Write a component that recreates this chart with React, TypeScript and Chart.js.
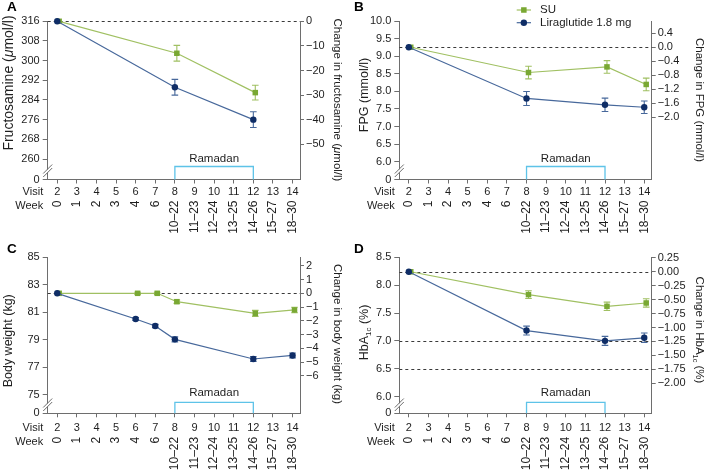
import React, { useEffect, useRef } from "react";
import { Chart, registerables } from "chart.js";
Chart.register(...registerables);

const FONT = '"Liberation Sans", Arial, Helvetica, sans-serif';
const COL = {
  su: "#79a833",
  suLine: "#a0c062",
  lira: "#0f2d66",
  liraLine: "#47689b",
  ramadan: "#5ec3e8",
  axis: "#6e6e6e",
  text: "#1e1e1e",
  dash: "#3a3a3a",
};

// ---- shared x-axis content ----
const visitTicks = [2, 3, 4, 5, 6, 7, 8, 9, 10, 11, 12, 13, 14];
const weekLabels = ["0", "1", "2", "3", "4", "6", "10–22", "11–23", "12–24", "13–25", "14–26", "15–27", "18–30"];
const ramadanVisits = [8, 12];
const seriesNames = ["SU", "Liraglutide 1.8 mg"];

// ---- Panel A: fructosamine ----
const aVisits = [2, 8, 12];
const aSU = [316, 303, 287];
const aSUErr = [0, 3.2, 3.0];
const aLira = [316, 289.2, 276];
const aLiraErr = [0, 3.2, 3.2];
const aLeftTicks = [260, 268, 276, 284, 292, 300, 308, 316];
const aRightTicks = [0, -10, -20, -30, -40, -50];
const aBaseline = 316;
const aRefLines = [316];
const aRange = [251.67, 316];

// ---- Panel B: FPG ----
const bVisits = [2, 8, 12, 14];
const bSU = [9.26, 8.54, 8.7, 8.2];
const bSUErr = [0, 0.18, 0.18, 0.18];
const bLira = [9.26, 7.8, 7.62, 7.55];
const bLiraErr = [0, 0.2, 0.19, 0.18];
const bLeftTicks = [6.0, 6.5, 7.0, 7.5, 8.0, 8.5, 9.0, 9.5, 10.0];
const bRightTicks = [0.4, 0, -0.4, -0.8, -1.2, -1.6, -2.0];
const bBaseline = 9.26;
const bRefLines = [9.26];
const bRange = [5.49, 10];

// ---- Panel C: body weight ----
const cVisits = [2, 6, 7, 8, 12, 14];
const cSU = [82.38, 82.38, 82.38, 81.77, 80.92, 81.17];
const cSUErr = [0, 0.08, 0.08, 0.12, 0.22, 0.2];
const cLira = [82.38, 80.51, 80.0, 79.03, 77.6, 77.86];
const cLiraErr = [0, 0.1, 0.12, 0.18, 0.18, 0.18];
const cLeftTicks = [75, 77, 79, 81, 83, 85];
const cRightTicks = [2, 1, 0, -1, -2, -3, -4, -5, -6];
const cBaseline = 82.38;
const cRefLines = [82.38];
const cRange = [73.65, 85];

// ---- Panel D: HbA1c ----
const dVisits = [2, 8, 12, 14];
const dSU = [8.24, 7.83, 7.62, 7.68];
const dSUErr = [0, 0.07, 0.075, 0.075];
const dLira = [8.24, 7.185, 7.0, 7.055];
const dLiraErr = [0, 0.08, 0.08, 0.085];
const dLeftTicks = [6.0, 6.5, 7.0, 7.5, 8.0, 8.5];
const dRightTicks = [0.25, 0, -0.25, -0.5, -0.75, -1.0, -1.25, -1.5, -1.75, -2.0];
const dBaseline = 8.24;
const dRefLines = [8.24, 7.0, 6.5];
const dRange = [5.7, 8.5];

type Seg = { t: string; sub?: boolean; it?: boolean };

const X_MIN = 1.515;
const X_MAX = 14.38;
const SU_DODGE = 0.1;

const fmt = (v: number, dec: number) => (v < 0 ? "\u2212" : "") + Math.abs(v).toFixed(dec);

function drawRich(ctx: CanvasRenderingContext2D, segs: Seg[], cx: number, cy: number, angle: number, size: number) {
  ctx.save();
  ctx.translate(cx, cy);
  ctx.rotate(angle);
  let total = 0;
  const parts = segs.map((s) => {
    const fs = s.sub ? size * 0.64 : size;
    const font = `${s.it ? "italic " : ""}${fs}px ${FONT}`;
    ctx.font = font;
    const w = ctx.measureText(s.t).width;
    total += w;
    return { s, font, w };
  });
  let x = -total / 2;
  ctx.textAlign = "left";
  ctx.textBaseline = "alphabetic";
  ctx.fillStyle = COL.text;
  const base = size * 0.36;
  for (const p of parts) {
    ctx.font = p.font;
    ctx.fillText(p.s.t, x, p.s.sub ? base + size * 0.22 : base);
    x += p.w;
  }
  ctx.restore();
}

function drawMarker(ctx: CanvasRenderingContext2D, style: string, x: number, y: number, r: number, color: string) {
  ctx.fillStyle = color;
  if (style === "rect") {
    const s = Math.SQRT1_2 * r;
    ctx.fillRect(x - s, y - s, 2 * s, 2 * s);
  } else {
    ctx.beginPath();
    ctx.arc(x, y, r, 0, Math.PI * 2);
    ctx.fill();
  }
}

interface Panel {
  letter: string;
  visits: number[];
  su: number[];
  suErr: number[];
  lira: number[];
  liraErr: number[];
  leftTicks: number[];
  rightTicks: number[];
  leftDec: number;
  rightDec: number;
  baseline: number;
  refLines: number[];
  range: number[];
  leftTitle: Seg[];
  rightTitle: Seg[];
  legend: boolean;
  box: { left: number; top: number; w: number; h: number };
  lay: {
    top: number;
    bottom: number;
    leftW: number;
    rightW: number;
    visitH: number;
    visitPad: number;
    weekPad: number;
    letter: number[];
    leftTitle: number[];
    leftTitleSize: number;
    rightTitle: number[];
    ramadan: number[];
    breakOff: number;
    legend?: number[];
  };
}

const PANELS: Panel[] = [
  {
    letter: "A", visits: aVisits, su: aSU, suErr: aSUErr, lira: aLira, liraErr: aLiraErr,
    leftTicks: aLeftTicks, rightTicks: aRightTicks, leftDec: 0, rightDec: 0,
    baseline: aBaseline, refLines: aRefLines, range: aRange,
    leftTitle: [{ t: "Fructosamine (" }, { t: "\u03bc", it: true }, { t: "mol/l)" }],
    rightTitle: [{ t: "Change in fructosamine (" }, { t: "\u03bc", it: true }, { t: "mol/l)" }],
    legend: false,
    box: { left: 0, top: 0, w: 354, h: 236 },
    lay: { top: 21.3, bottom: 179.5, leftW: 47.7, rightW: 54, visitH: 19, visitPad: 2, weekPad: 2, letter: [7, 11], leftTitle: [7.8, 83], leftTitleSize: 14, rightTitle: [338, 100], ramadan: [13, 21], breakOff: 8.5 },
  },
  {
    letter: "B", visits: bVisits, su: bSU, suErr: bSUErr, lira: bLira, liraErr: bLiraErr,
    leftTicks: bLeftTicks, rightTicks: bRightTicks, leftDec: 1, rightDec: 1,
    baseline: bBaseline, refLines: bRefLines, range: bRange,
    leftTitle: [{ t: "FPG (mmol/l)" }],
    rightTitle: [{ t: "Change in FPG (mmol/l)" }],
    legend: true,
    box: { left: 352, top: 0, w: 357, h: 236 },
    lay: { top: 21.3, bottom: 179.5, leftW: 47.3, rightW: 57.3, visitH: 19, visitPad: 2, weekPad: 2, letter: [2, 11], leftTitle: [11.3, 95], leftTitleSize: 12.5, rightTitle: [348, 100], ramadan: [13, 21], breakOff: 8.5, legend: [164.7, 179, 188, 10, 22.7] },
  },
  {
    letter: "C", visits: cVisits, su: cSU, suErr: cSUErr, lira: cLira, liraErr: cLiraErr,
    leftTicks: cLeftTicks, rightTicks: cRightTicks, leftDec: 0, rightDec: 0,
    baseline: cBaseline, refLines: cRefLines, range: cRange,
    leftTitle: [{ t: "Body weight (kg)" }],
    rightTitle: [{ t: "Change in body weight (kg)" }],
    legend: false,
    box: { left: 0, top: 236, w: 354, h: 234 },
    lay: { top: 21.3, bottom: 177.3, leftW: 47.7, rightW: 54, visitH: 21, visitPad: 3.6, weekPad: 2.5, letter: [7, 17.3], leftTitle: [7.5, 104.8], leftTitleSize: 12.5, rightTitle: [338.3, 98], ramadan: [11, 20], breakOff: 8.3 },
  },
  {
    letter: "D", visits: dVisits, su: dSU, suErr: dSUErr, lira: dLira, liraErr: dLiraErr,
    leftTicks: dLeftTicks, rightTicks: dRightTicks, leftDec: 1, rightDec: 2,
    baseline: dBaseline, refLines: dRefLines, range: dRange,
    leftTitle: [{ t: "HbA" }, { t: "1c", sub: true }, { t: " (%)" }],
    rightTitle: [{ t: "Change in HbA" }, { t: "1c", sub: true }, { t: " (%)" }],
    legend: false,
    box: { left: 352, top: 236, w: 357, h: 234 },
    lay: { top: 21.3, bottom: 177.3, leftW: 47.3, rightW: 57.3, visitH: 21, visitPad: 3.6, weekPad: 2.5, letter: [2, 17.3], leftTitle: [11.3, 96.5], leftTitleSize: 12.5, rightTitle: [348, 94], ramadan: [11, 20], breakOff: 8.3 },
  },
];

const SU_STYLE = { style: "rect", r: 3.9 };
const LIRA_STYLE = { style: "circle", r: 3.2 };

function makeDecor(p: Panel) {
  return {
    id: "decor" + p.letter,
    beforeDatasetsDraw(chart: any) {
      const ctx: CanvasRenderingContext2D = chart.ctx;
      const ca = chart.chartArea;
      const xs = chart.scales.x;
      const ys = chart.scales.y;
      ctx.save();
      // reference dashed lines
      ctx.strokeStyle = COL.dash;
      ctx.lineWidth = 1;
      ctx.setLineDash([3, 3]);
      for (const v of p.refLines) {
        const y = Math.round(ys.getPixelForValue(v)) + 0.5;
        ctx.beginPath();
        ctx.moveTo(ca.left, y);
        ctx.lineTo(ca.right, y);
        ctx.stroke();
      }
      ctx.setLineDash([]);
      // Ramadan bracket
      const x1 = xs.getPixelForValue(ramadanVisits[0]);
      const x2 = xs.getPixelForValue(ramadanVisits[1]);
      const yb = ca.bottom - p.lay.ramadan[0];
      ctx.strokeStyle = COL.ramadan;
      ctx.lineWidth = 1.3;
      ctx.beginPath();
      ctx.moveTo(x1, ca.bottom);
      ctx.lineTo(x1, yb);
      ctx.lineTo(x2, yb);
      ctx.lineTo(x2, ca.bottom);
      ctx.stroke();
      ctx.fillStyle = COL.text;
      ctx.font = `11.5px ${FONT}`;
      ctx.textAlign = "center";
      ctx.textBaseline = "middle";
      ctx.fillText("Ramadan", (x1 + x2) / 2, ca.bottom - p.lay.ramadan[1]);
      // error bars
      const errs = [p.suErr, p.liraErr];
      const ecol = [COL.suLine, COL.liraLine];
      chart.data.datasets.forEach((ds: any, di: number) => {
        ctx.strokeStyle = ecol[di];
        ctx.lineWidth = 1.1;
        ds.data.forEach((pt: any, i: number) => {
          const e = errs[di][i];
          if (!e) return;
          const x = xs.getPixelForValue(pt.x);
          const y1 = ys.getPixelForValue(pt.y + e);
          const y2 = ys.getPixelForValue(pt.y - e);
          ctx.beginPath();
          ctx.moveTo(x, y1);
          ctx.lineTo(x, y2);
          ctx.moveTo(x - 3.3, y1);
          ctx.lineTo(x + 3.3, y1);
          ctx.moveTo(x - 3.3, y2);
          ctx.lineTo(x + 3.3, y2);
          ctx.stroke();
        });
      });
      ctx.restore();
    },
    afterDraw(chart: any) {
      const ctx: CanvasRenderingContext2D = chart.ctx;
      const ca = chart.chartArea;
      ctx.save();
      // panel letter
      ctx.fillStyle = "#000";
      ctx.font = `bold 13.5px ${FONT}`;
      ctx.textAlign = "left";
      ctx.textBaseline = "alphabetic";
      ctx.fillText(p.letter, p.lay.letter[0], p.lay.letter[1]);
      // axis titles
      drawRich(ctx, p.leftTitle, p.lay.leftTitle[0], p.lay.leftTitle[1], -Math.PI / 2, p.lay.leftTitleSize);
      drawRich(ctx, p.rightTitle, p.lay.rightTitle[0], p.lay.rightTitle[1], Math.PI / 2, 11.5);
      // row labels
      ctx.fillStyle = COL.text;
      ctx.font = `11px ${FONT}`;
      ctx.textAlign = "right";
      ctx.textBaseline = "middle";
      const lx = ca.left - 4.5;
      ctx.fillText("Visit", lx, ca.bottom + 4 + p.lay.visitPad + 6.6);
      ctx.fillText("Week", lx, ca.bottom + p.lay.visitH + p.lay.weekPad + 5);
      // axis break
      const by = ca.bottom - p.lay.breakOff;
      const ax = ca.left;
      ctx.fillStyle = "#fff";
      ctx.beginPath();
      ctx.moveTo(ax - 4, by + 2.5);
      ctx.lineTo(ax + 4, by - 5.5);
      ctx.lineTo(ax + 4, by - 2.5);
      ctx.lineTo(ax - 4, by + 5.5);
      ctx.closePath();
      ctx.fill();
      ctx.strokeStyle = COL.axis;
      ctx.lineWidth = 1;
      ctx.beginPath();
      ctx.moveTo(ax - 4.5, by + 2.5);
      ctx.lineTo(ax + 4.5, by - 6.5);
      ctx.moveTo(ax - 4.5, by + 6);
      ctx.lineTo(ax + 4.5, by - 3);
      ctx.stroke();
      // legend
      if (p.legend && p.lay.legend) {
        const [lx1, lx2, tx, y1, y2] = p.lay.legend;
        const rows = [
          { y: y1, line: COL.suLine, mk: COL.su, st: SU_STYLE },
          { y: y2, line: COL.liraLine, mk: COL.lira, st: LIRA_STYLE },
        ];
        rows.forEach((r, i) => {
          ctx.strokeStyle = r.line;
          ctx.lineWidth = 1.2;
          ctx.beginPath();
          ctx.moveTo(lx1, r.y);
          ctx.lineTo(lx2, r.y);
          ctx.stroke();
          drawMarker(ctx, r.st.style, (lx1 + lx2) / 2, r.y, r.st.r, r.mk);
          ctx.fillStyle = COL.text;
          ctx.font = `11.5px ${FONT}`;
          ctx.textAlign = "left";
          ctx.textBaseline = "middle";
          ctx.fillText(seriesNames[i], tx, r.y);
        });
      }
      ctx.restore();
    },
  };
}

function buildConfig(p: Panel): any {
  const [yMin, yMax] = p.range;
  const tickFont = { family: FONT, size: 11 };
  const weekH = p.box.h - p.lay.bottom - p.lay.visitH;
  return {
    type: "line",
    data: {
      datasets: [
        {
          label: seriesNames[0],
          data: p.visits.map((v, i) => ({ x: v + SU_DODGE, y: p.su[i] })),
          borderColor: COL.suLine,
          borderWidth: 1.2,
          pointStyle: SU_STYLE.style,
          pointRadius: SU_STYLE.r,
          pointBackgroundColor: COL.su,
          pointBorderColor: COL.su,
          pointBorderWidth: 0,
          tension: 0,
          clip: false,
          order: 2,
        },
        {
          label: seriesNames[1],
          data: p.visits.map((v, i) => ({ x: v, y: p.lira[i] })),
          borderColor: COL.liraLine,
          borderWidth: 1.2,
          pointStyle: LIRA_STYLE.style,
          pointRadius: LIRA_STYLE.r,
          pointBackgroundColor: COL.lira,
          pointBorderColor: COL.lira,
          pointBorderWidth: 0,
          tension: 0,
          clip: false,
          order: 1,
        },
      ],
    },
    options: {
      responsive: false,
      animation: false,
      devicePixelRatio: 1,
      events: [],
      layout: { padding: { top: p.lay.top, left: 0, right: 0, bottom: 0 } },
      plugins: { legend: { display: false }, tooltip: { enabled: false }, title: { display: false } },
      scales: {
        x: {
          type: "linear",
          position: "bottom",
          weight: 1,
          min: X_MIN,
          max: X_MAX,
          afterBuildTicks: (s: any) => {
            s.ticks = visitTicks.map((v) => ({ value: v }));
          },
          afterFit: (s: any) => {
            s.height = p.lay.visitH;
          },
          ticks: {
            autoSkip: false,
            minRotation: 0,
            maxRotation: 0,
            padding: p.lay.visitPad,
            color: COL.text,
            font: tickFont,
            callback: (v: number) => String(v),
          },
          grid: { drawOnChartArea: false, drawTicks: true, tickLength: 4, color: COL.axis },
          border: { display: true, color: COL.axis, width: 1 },
        },
        xw: {
          type: "linear",
          position: "bottom",
          weight: 2,
          min: X_MIN,
          max: X_MAX,
          afterBuildTicks: (s: any) => {
            s.ticks = visitTicks.map((v) => ({ value: v }));
          },
          afterFit: (s: any) => {
            s.height = weekH;
          },
          ticks: {
            autoSkip: false,
            minRotation: 90,
            maxRotation: 90,
            padding: p.lay.weekPad,
            color: COL.text,
            font: { family: FONT, size: 12 },
            callback: (v: number) => weekLabels[visitTicks.indexOf(Math.round(v))],
          },
          grid: { display: false, drawTicks: false, tickLength: 0 },
          border: { display: false },
        },
        y: {
          type: "linear",
          position: "left",
          min: yMin,
          max: yMax,
          afterBuildTicks: (s: any) => {
            s.ticks = [yMin, ...p.leftTicks].map((v) => ({ value: v }));
          },
          afterFit: (s: any) => {
            s.width = p.lay.leftW;
          },
          ticks: {
            autoSkip: false,
            padding: 3,
            color: COL.text,
            font: tickFont,
            callback: (v: number, i: number) => (i === 0 ? "0" : v.toFixed(p.leftDec)),
          },
          grid: { drawOnChartArea: false, drawTicks: true, tickLength: 5, color: COL.axis },
          border: { display: true, color: COL.axis, width: 1 },
        },
        y2: {
          type: "linear",
          position: "right",
          min: yMin - p.baseline,
          max: yMax - p.baseline,
          afterBuildTicks: (s: any) => {
            s.ticks = p.rightTicks.map((v) => ({ value: v }));
          },
          afterFit: (s: any) => {
            s.width = p.lay.rightW;
          },
          ticks: {
            autoSkip: false,
            padding: 2,
            color: COL.text,
            font: tickFont,
            callback: (v: number) => fmt(v, p.rightDec),
          },
          grid: { drawOnChartArea: false, drawTicks: true, tickLength: 4, color: COL.axis },
          border: { display: true, color: COL.axis, width: 1 },
        },
      },
    },
    plugins: [makeDecor(p)],
  };
}

function PanelChart({ p }: { p: Panel }) {
  const ref = useRef<HTMLCanvasElement | null>(null);
  useEffect(() => {
    if (!ref.current) return;
    const chart = new Chart(ref.current, buildConfig(p));
    return () => chart.destroy();
  }, [p]);
  return (
    <canvas
      ref={ref}
      width={p.box.w}
      height={p.box.h}
      style={{ position: "absolute", left: p.box.left, top: p.box.top, width: p.box.w, height: p.box.h }}
    />
  );
}

export default function App() {
  return (
    <div style={{ position: "absolute", left: 0, top: 0, width: 709, height: 470, background: "#fff", overflow: "hidden" }}>
      {PANELS.map((p) => (
        <PanelChart key={p.letter} p={p} />
      ))}
    </div>
  );
}
